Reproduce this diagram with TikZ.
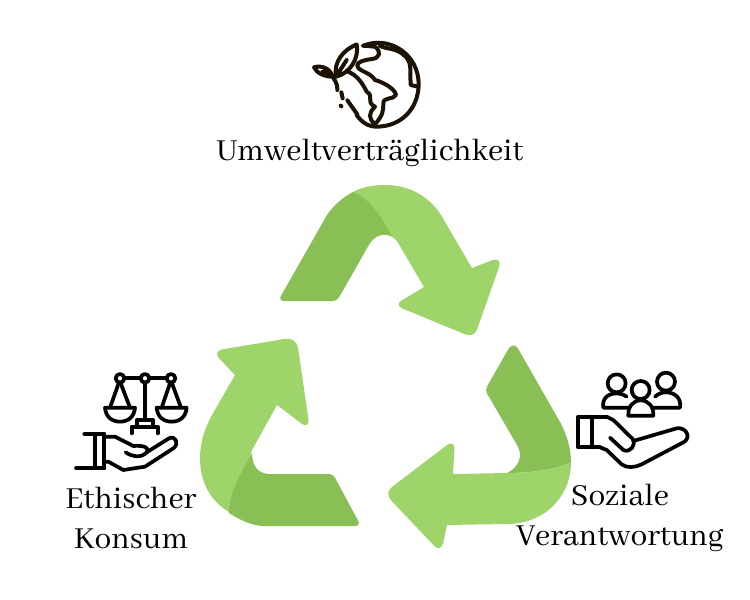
\documentclass[tikz,border=0pt]{standalone}
\usepackage{fontspec}
\setmainfont{Abhaya Libre}
\usetikzlibrary{positioning}
\definecolor{arrowlight}{HTML}{9FD46A}
\definecolor{arrowdark}{HTML}{8ABF55}
\definecolor{globeink}{HTML}{1C1206}
\begin{document}
\begin{tikzpicture}[
    x=1pt, y=-1pt,
    % Stile testo
    labeltext/.style={font=\fontsize{33.5}{40}\selectfont, align=center, text=black},
    % Stili per le frecce
    lightpart/.style={fill=arrowlight, draw=none},
    darkpart/.style={fill=arrowdark, draw=none},
    % Stili per le icone
    iconline/.style={draw=black, line width=3.7pt, line cap=round, line join=round},
    globeline/.style={iconline, draw=globeink, line width=4pt},
    zoomscope/.style={x=0.3333pt, y=-0.3333pt}
]
\useasboundingbox (0,0) rectangle (750,600);

% === FRECCIA ALTO ===
\path[lightpart] (353,192) .. controls (362,187) and (373,185) .. (385,185)
    .. controls (408,185) and (428,195) .. (441,215) -- (472,268)
    [rounded corners=12pt] -- (503,256) [rounded corners=9pt] -- (474,338) -- (394,305) [sharp corners]
    -- (424,287) -- (397,241) .. controls (389,232) and (377,233) .. (370,243)
    -- cycle;
\path[darkpart] (353,192) .. controls (372,200) and (383,220) .. (392,236)
    .. controls (384,233) and (376,234) .. (370,243)
    [rounded corners=4pt] -- (337,301) [rounded corners=6pt] -- (278,301) [sharp corners]
    -- (327,215) .. controls (334,205) and (343,197) .. (353,192) -- cycle;

% === FRECCIA SINISTRA ===
\path[lightpart] (235,375) [rounded corners=11pt] -- (212,351) -- (296.5,337) -- (310,430)
    [sharp corners] -- (277,405) -- (252,450) .. controls (250,455) and (250,458) .. (251,460)
    .. controls (240,480) and (228,495) .. (229,512)
    .. controls (212,502) and (200,484) .. (200,458)
    .. controls (200,442) and (205,428) .. (212,415) -- cycle;
\path[darkpart] (252,453) .. controls (252,466) and (258,474) .. (270,474)
    [rounded corners=4pt] -- (333,474) [rounded corners=6pt] -- (361,526) [sharp corners] -- (265,526)
    .. controls (252,526) and (240,520) .. (229,513)
    .. controls (228,495) and (240,475) .. (252,453) -- cycle;

% === FRECCIA DESTRA ===
\path[darkpart] (500,363.7) [rounded corners=10pt] -- (513.3,340.4) [sharp corners] -- (560,422)
    .. controls (566,433) and (571,447) .. (571,462)
    .. controls (555,470) and (530,473) .. (507,473)
    .. controls (518,468) and (524,456) .. (517,445)
    [rounded corners=4pt] -- (485,390) [sharp corners] -- cycle;
\path[lightpart] (571,462) .. controls (571,498) and (543,524) .. (507,524)
    -- (447,525) [rounded corners=10pt] -- (441,553) -- (384,493) -- (455,439) [sharp corners]
    -- (453,474) -- (507,473)
    .. controls (530,473) and (555,470) .. (571,462) -- cycle;

% === ICONA GLOBO ===
\begin{scope}[shift={(300,35)}, zoomscope]
    \draw[globeline] (190,32) .. controls (270,0) and (358,60) .. (356,150)
        .. controls (354,225) and (300,275) .. (230,275) .. controls (205,275) and (185,262) .. (170,240);
    \draw[globeline] (172,238) -- (142,196);
    \draw[globeline] (122,212) -- (124,214);
    \draw[globeline] (128,190) -- (124,172);
    % foglie
    \draw[globeline] (108,125) .. controls (100,80) and (130,45) .. (170,28)
        .. controls (178,70) and (150,115) .. (108,125) -- (140,75);
    \draw[globeline] (98,125) .. controls (75,125) and (50,115) .. (42,97)
        .. controls (65,90) and (90,100) .. (98,125) -- (68,110);
    \draw[globeline] (98,125) .. controls (102,135) and (112,140) .. (112,165);
    % continenti
    \draw[globeline] (190,32) -- (225,35) .. controls (245,50) and (240,70) .. (215,72)
        .. controls (195,75) and (170,80) .. (172,92) .. controls (175,110) and (210,110) .. (225,135)
        .. controls (245,140) and (285,160) .. (288,180) .. controls (280,195) and (250,185) .. (250,205)
        .. controls (250,225) and (250,240) .. (225,268);
    \draw[globeline] (140,108) .. controls (170,120) and (185,140) .. (200,170)
        .. controls (225,185) and (195,200) .. (225,215) .. controls (205,235) and (205,250) .. (225,268);
    \draw[globeline] (240,32) .. controls (260,45) and (290,35) .. (320,68)
        .. controls (335,85) and (330,110) .. (332,150) -- (354,155);
\end{scope}

% === ICONA BILANCIA ===
\begin{scope}[shift={(65,365)}, zoomscope]
    \draw[iconline] (165,40) circle (13);
    \draw[iconline] (240,40) circle (13);
    \draw[iconline] (318,40) circle (13);
    \draw[iconline] (177,40) -- (228,40);
    \draw[iconline] (252,40) -- (306,40);
    \draw[iconline] (240,52) -- (240,165);
    \draw[iconline] (215,185) -- (215,165) -- (265,165) -- (265,185);
    \draw[iconline] (200,205) -- (200,185) -- (278,185) -- (278,205);
    \draw[iconline] (162,52) -- (135,128);
    \draw[iconline] (166,52) -- (195,128);
    \draw[iconline] (120,128) -- (210,128) .. controls (208,155) and (190,170) .. (165,170)
        .. controls (140,170) and (122,155) .. (120,128) -- cycle;
    \draw[iconline] (316,52) -- (290,128);
    \draw[iconline] (320,52) -- (348,128);
    \draw[iconline] (275,128) -- (365,128) .. controls (363,155) and (345,170) .. (320,170)
        .. controls (295,170) and (277,155) .. (275,128) -- cycle;
    % mano
    \draw[iconline] (58,207) -- (118,207);
    \draw[iconline] (33,310) -- (118,310);
    \draw[iconline] (90,207) -- (90,310);
    \draw[iconline] (118,207) -- (118,310);
    \draw[iconline] (118,215) -- (150,215) -- (205,243) .. controls (240,240) and (255,250) .. (245,262)
        .. controls (230,280) and (200,275) .. (182,262);
    \draw[iconline] (245,262) -- (312,220) .. controls (330,210) and (345,235) .. (325,250)
        -- (240,305) -- (175,315) -- (130,290) -- (118,290);
\end{scope}

% === ICONA PERSONE ===
\begin{scope}[shift={(570,365)}, zoomscope]
    \draw[iconline] (140,55) circle (27);
    \draw[iconline] (288,50) circle (27);
    \draw[iconline] (212,75) circle (27);
    \draw[iconline] (176,128) -- (100,128) .. controls (95,100) and (115,85) .. (140,85) .. controls (150,85) and (160,88) .. (170,95);
    \draw[iconline] (250,128) -- (330,128) .. controls (335,100) and (315,82) .. (288,82) .. controls (275,82) and (265,86) .. (255,95);
    \draw[iconline] (175,152) -- (250,152) .. controls (252,125) and (235,106) .. (212,106)
        .. controls (190,106) and (173,125) .. (175,152) -- cycle;
    % mano
    \draw[iconline] (110,155) -- (25,155) -- (25,247) -- (90,247);
    \draw[iconline] (65,155) -- (65,247);
    \draw[iconline] (110,155) -- (130,165) -- (188,222) .. controls (200,240) and (180,265) .. (160,255) -- (120,218);
    \draw[iconline] (190,228) -- (320,190) .. controls (350,185) and (365,220) .. (340,232)
        -- (215,298) .. controls (195,308) and (170,310) .. (155,298) -- (110,255) -- (90,247);
\end{scope}

% === ETICHETTE ===
\node[labeltext] (umwelt) at (370,153) {Umweltverträglichkeit};
\node[labeltext] (konsum) at (131,518) {Ethischer\\Konsum};
\node[labeltext] (sozial) at (620,518) {Soziale\\Verantwortung};

\end{tikzpicture}
\end{document}
